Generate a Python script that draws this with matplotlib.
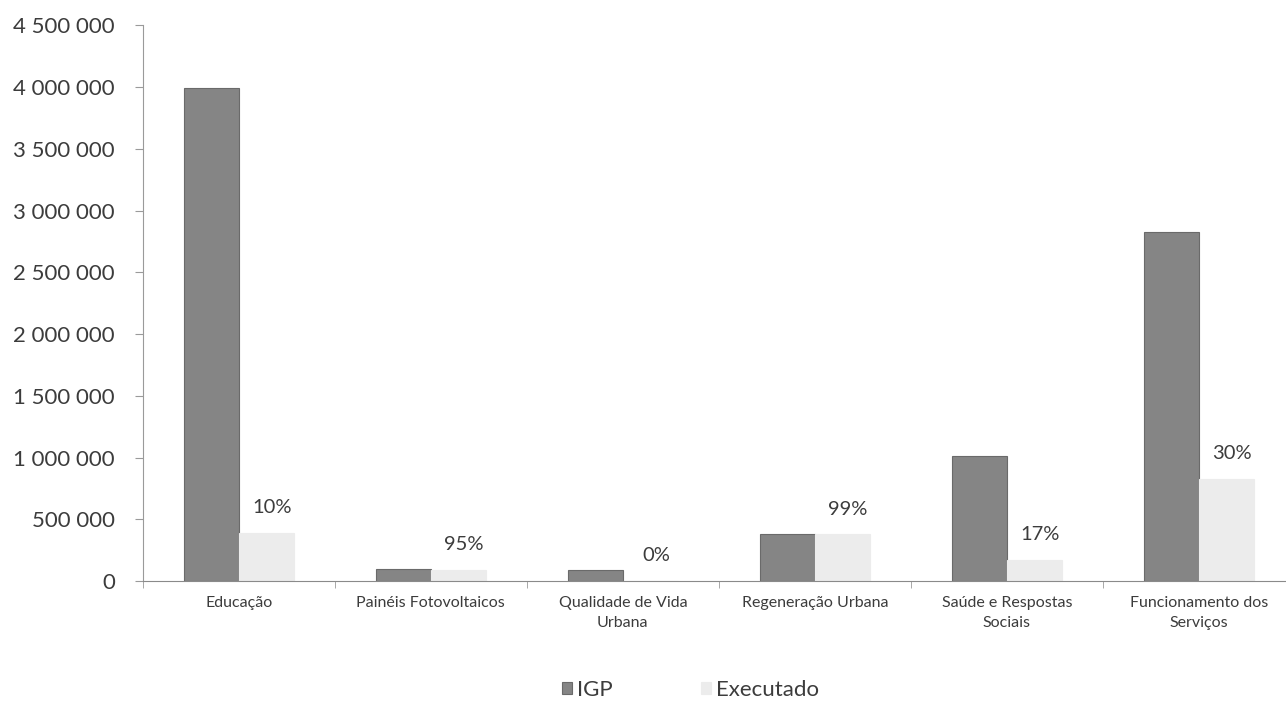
import numpy as np
import matplotlib
matplotlib.use("Agg")
import matplotlib.pyplot as plt
from matplotlib.ticker import FuncFormatter, FixedLocator

plt.rcParams['font.family'] = ['Lato', 'DejaVu Sans']

categories = ["Educação", "Painéis Fotovoltaicos", "Qualidade de Vida\nUrbana",
              "Regeneração Urbana", "Saúde e Respostas\nSociais",
              "Funcionamento dos\nServiços"]
igp = [3990000, 97000, 90000, 385000, 1010000, 2830000]
executado = [392000, 90000, 0, 380000, 170000, 830000]
pct_labels = ["10%", "95%", "0%", "99%", "17%", "30%"]

text_col = "#3c3c3c"
fig = plt.figure(figsize=(12.86, 7.01), dpi=100)
ax = fig.add_axes([0.111, 0.171, 0.889, 0.793])

x = np.arange(len(categories))
w = 0.286
ax.bar(x - w / 2, igp, w, color="#858585", edgecolor="#6a6a6a", linewidth=0.8, label="IGP")
ax.bar(x + w / 2, executado, w, color="#ececec", edgecolor="#ececec", linewidth=0.8, label="Executado")

for xi, v, lab in zip(x, executado, pct_labels):
    ax.annotate(lab, (xi + w / 2, v), xytext=(4, 12), textcoords="offset points",
                ha="center", va="bottom", fontsize=14.5, color=text_col)

ax.set_xlim(-0.5, 5.453)
ax.set_ylim(0, 4500000)
ax.set_yticks(np.arange(0, 4500001, 500000))
ax.yaxis.set_major_formatter(FuncFormatter(lambda v, p: f"{int(v):,}".replace(",", " ")))
ax.tick_params(axis="y", labelsize=16, colors="#9a9a9a", labelcolor=text_col, length=6, pad=14)

ax.set_xticks(x)
ax.set_xticklabels(categories, fontsize=11.5, color=text_col, linespacing=1.5)
ax.xaxis.set_minor_locator(FixedLocator(np.arange(-0.5, 6, 1)))
ax.tick_params(axis="x", which="major", length=0, pad=11)
ax.tick_params(axis="x", which="minor", length=5, colors="#9a9a9a")

for s in ["top", "right"]:
    ax.spines[s].set_visible(False)
ax.spines["left"].set_color("#9a9a9a")
ax.spines["bottom"].set_color("#8a8a8a")

leg = fig.legend(loc="center", bbox_to_anchor=(0.537, 0.016), ncol=2, frameon=False,
                 fontsize=16, handlelength=0.45, handleheight=0.45, columnspacing=4,
                 handletextpad=0.2, borderpad=0)
for t in leg.get_texts():
    t.set_color(text_col)

fig.savefig("out.png", dpi=100)
